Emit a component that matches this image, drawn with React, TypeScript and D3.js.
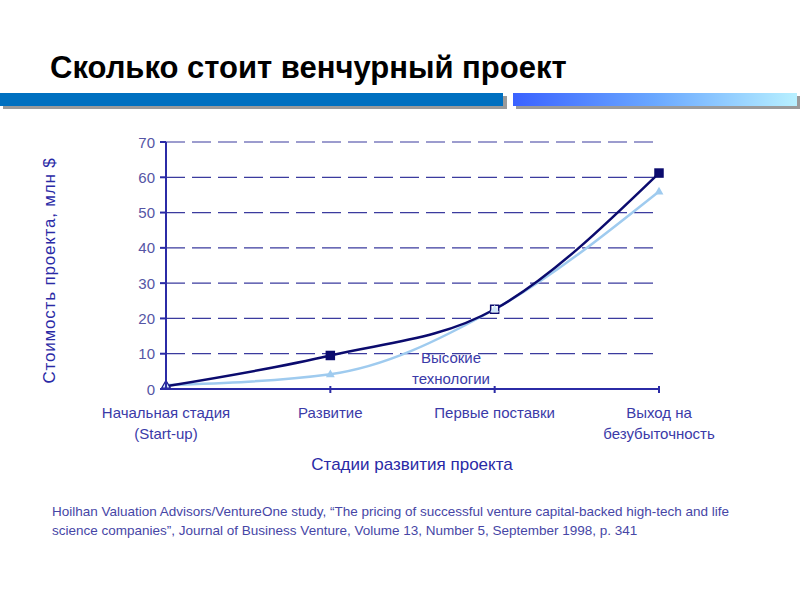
import React from 'react'
import * as d3 from 'd3'

// stages and values
const stages = [
  ['Начальная стадия', '(Start-up)'],
  ['Развитие'],
  ['Первые поставки'],
  ['Выход на', 'безубыточность']
]
const ventureValues = [0.8, 9.5, 22.6, 61.2]
const highTechValues = [1.1, 4.2, 22.6, 56]
const yTicks = [0, 10, 20, 30, 40, 50, 60, 70]

const font = '"Liberation Sans", Arial, sans-serif'
const axisColor = '#2b2ba6'
const textColor = '#3a3aa8'

const App = () => {
  const width = 800
  const height = 600
  const margin = { left: 166, right: 141, top: 142, bottom: 211 }

  const x = d3
    .scalePoint()
    .domain(stages.map((d, i) => String(i)))
    .range([margin.left, width - margin.right])
  const y = d3
    .scaleLinear()
    .domain([0, 70])
    .range([height - margin.bottom, margin.top])

  const line = d3
    .line<number>()
    .x((d, i) => x(String(i)))
    .y((d) => y(d))
    .curve(d3.curveMonotoneX)

  const x0 = margin.left
  const x1 = width - margin.right
  const y0 = y(0)

  const grid = yTicks.slice(1).map((t) => (
    <g key={t}>
      <line
        x1={x0}
        x2={x1}
        y1={y(t)}
        y2={y(t)}
        stroke="#3b3b9e"
        strokeWidth={1.2}
        strokeDasharray="19 7"
      />
    </g>
  ))

  const yLabels = yTicks.map((t) => (
    <g key={t}>
      <line x1={x0 - 6} x2={x0} y1={y(t)} y2={y(t)} stroke={axisColor} strokeWidth={2} />
      <text
        x={x0 - 11}
        y={y(t) + 5.5}
        textAnchor="end"
        fontSize={15}
        fill="#5555a5"
      >
        {t}
      </text>
    </g>
  ))

  const xLabels = stages.map((s, i) => (
    <g key={i}>
      {i > 0 && (
        <line
          x1={x(String(i))}
          x2={x(String(i))}
          y1={y0 - 3}
          y2={y0 + 4}
          stroke={axisColor}
          strokeWidth={2}
        />
      )}
      {s.map((t, j) => (
        <text
          key={j}
          x={x(String(i))}
          y={y0 + 29 + j * 21}
          textAnchor="middle"
          fontSize={15}
          fill={textColor}
        >
          {t}
        </text>
      ))}
    </g>
  ))

  const tri = d3.symbol().type(d3.symbolTriangle).size(34)

  return (
    <svg
      width={width}
      height={height}
      style={{ position: 'absolute', left: 0, top: 0, fontFamily: font }}
    >
      <defs>
        <linearGradient id="bar" x1="0" x2="1" y1="0" y2="0">
          <stop offset="0" stopColor="#3a62ff" />
          <stop offset="0.5" stopColor="#6aa8ff" />
          <stop offset="1" stopColor="#b8f0ff" />
        </linearGradient>
      </defs>
      <rect width={width} height={height} fill="#fff" />

      <text x={50} y={78} fontSize={31} fontWeight="bold" fill="#000">
        Сколько стоит венчурный проект
      </text>

      {/* header bars */}
      <rect x={3} y={96} width={504} height={13} fill="#9a9a9a" />
      <rect x={0} y={93} width={503} height={13} fill="#0070c0" />
      <rect x={516} y={96} width={284} height={13} fill="#9a9a9a" />
      <rect x={513} y={93} width={284} height={13} fill="url(#bar)" />

      {grid}

      <path
        d={line(highTechValues)}
        fill="none"
        stroke="#9fcbef"
        strokeWidth={2.5}
      />
      <path
        d={line(ventureValues)}
        fill="none"
        stroke="#0b0b6e"
        strokeWidth={2.5}
      />

      {ventureValues.map((v, i) => (
        <rect
          key={i}
          x={x(String(i)) - 4}
          y={y(v) - 4}
          width={8}
          height={8}
          fill={i === 0 || i === 2 ? '#fff' : '#0b0b6e'}
          stroke="#0b0b6e"
          strokeWidth={1.5}
          opacity={i === 0 ? 0 : 1}
        />
      ))}
      {highTechValues.map((v, i) => (
        <path
          key={i}
          d={tri()}
          transform={`translate(${x(String(i))},${y(v) + 0.5})`}
          fill={i === 0 || i === 2 ? '#cfe6fa' : '#9fcbef'}
          stroke={i === 0 ? '#1a1a8a' : 'none'}
          strokeWidth={1.2}
        />
      ))}

      {/* axes */}
      <line x1={x0} x2={x0} y1={y(70)} y2={y0} stroke={axisColor} strokeWidth={2} />
      <line x1={x0} x2={x1} y1={y0} y2={y0} stroke={axisColor} strokeWidth={2} />
      {yLabels}
      {xLabels}

      <text x={451} y={363} textAnchor="middle" fontSize={15} fill={textColor}>
        Высокие
      </text>
      <text x={451} y={384} textAnchor="middle" fontSize={15} fill={textColor}>
        технологии
      </text>

      <text
        x={412}
        y={470}
        textAnchor="middle"
        fontSize={17}
        fill="#2a2aa6"
      >
        Стадии развития проекта
      </text>
      <text
        transform={`translate(55,${(y(70) + y0) / 2 + 5}) rotate(-90)`}
        textAnchor="middle"
        fontSize={17}
        letterSpacing={0.8}
        fill="#2a2aa6"
      >
        Стоимость проекта, млн $
      </text>

      <text x={52} y={516} fontSize={13.5} fill="#4646a6">
        Hoilhan Valuation Advisors/VentureOne study, “The pricing of successful venture capital-backed high-tech and life
      </text>
      <text x={52} y={535} fontSize={13.5} fill="#4646a6">
        science companies”, Journal of Business Venture, Volume 13, Number 5, September 1998, p. 341
      </text>
    </svg>
  )
}

export default App
